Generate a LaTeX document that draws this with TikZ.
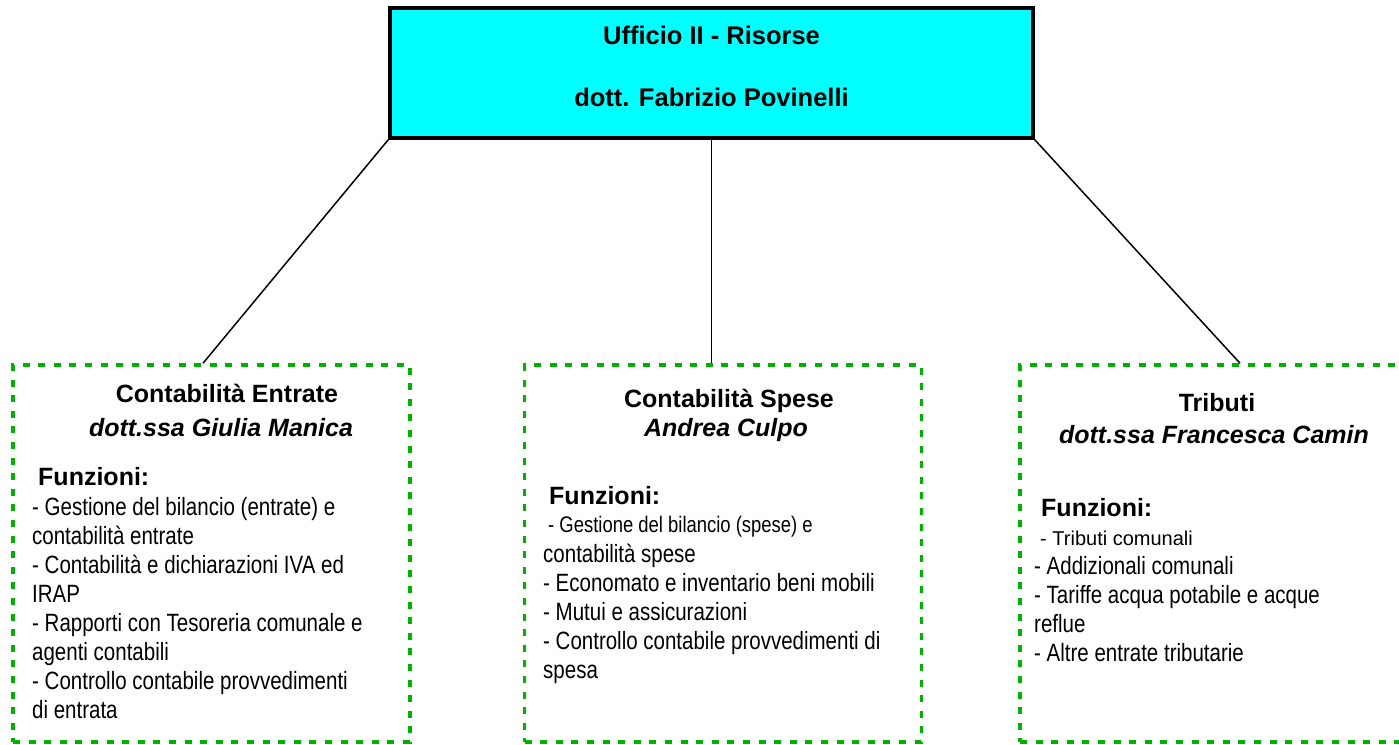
\documentclass[tikz,border=0pt]{standalone}
\usepackage{fontspec}
\setmainfont{Liberation Sans}
\newfontfamily\narrow[FakeStretch=0.82]{Liberation Sans}
\definecolor{uogreen}{RGB}{0,178,0}
\definecolor{uocyan}{RGB}{0,255,255}

\begin{document}
\begin{tikzpicture}[x=1pt,y=-1pt]
            \tikzset{ufficio/.style = {shape=rectangle,draw,line width=3.5pt,fill=uocyan,minimum width=643,minimum height=130,inner sep=0}}
            \tikzset{servizio/.style = {shape=rectangle,draw=uogreen,line width=3.5pt,dash pattern=on 7pt off 8.6pt,minimum width=397,minimum height=377,inner sep=0}}
            \tikzset{capo/.style = {anchor=base,inner sep=0,font=\fontsize{25}{29}\selectfont\bfseries}}
            \tikzset{nome/.style = {capo,font=\fontsize{25}{29}\selectfont\bfseries\itshape}}
            \tikzset{funz/.style = {anchor=base west,inner sep=0,font=\fontsize{25}{29}\selectfont\bfseries}}
            \tikzset{elenco/.style = {anchor=base west,align=left,inner sep=0,font=\narrow\fontsize{25}{29}\selectfont}}
            \tikzset{edge/.style = {line width=1.5pt}}
            \useasboundingbox (0,0) rectangle (1399,744);

            \node[ufficio] (capoufficio) at (711.5,73) {};
            \node[servizio] (entrate) at (211.5,553.5) {};
            \node[servizio] (spese) at (723,553.5) {};
            \node[servizio] (tributi) at (1218.5,553.5) {};

            \node[capo,font=\fontsize{25.5}{29}\selectfont\bfseries] (uff1) at (711.5,44) {Ufficio II - Risorse};
            \node[capo,font=\fontsize{25.5}{29}\selectfont\bfseries] (uff2) at (711.5,106) {dott. Fabrizio Povinelli};

            % Contabilita' Entrate (lists are placed by their last line)
            \node[capo] (ent1) at (227,402) {Contabilità Entrate};
            \node[nome] (ent2) at (221,436) {dott.ssa Giulia Manica};
            \node[funz] (ent3) at (38,485) {Funzioni:};
            \node[elenco] (ent4) at (32,718) {- Gestione del bilancio (entrate) e\\contabilità entrate\\- Contabilità e dichiarazioni IVA ed\\IRAP\\- Rapporti con Tesoreria comunale e\\agenti contabili\\- Controllo contabile provvedimenti\\di entrata};

            % Contabilita' Spese
            \node[capo] (spe1) at (729,407) {Contabilità Spese};
            \node[nome] (spe2) at (726,436) {Andrea Culpo};
            \node[funz] (spe3) at (549,504) {Funzioni:};
            \node[elenco,font=\narrow\fontsize{22.5}{29}\selectfont] (spe4) at (548,532) {- Gestione del bilancio (spese) e};
            \node[elenco] (spe5) at (543,678) {contabilità spese\\- Economato e inventario beni mobili\\- Mutui e assicurazioni\\- Controllo contabile provvedimenti di\\spesa};

            % Tributi
            \node[capo] (tri1) at (1217,411) {Tributi};
            \node[nome] (tri2) at (1214,443) {dott.ssa Francesca Camin};
            \node[funz] (tri3) at (1041,516) {Funzioni:};
            \node[elenco,font=\fontsize{20}{24}\selectfont] (tri4) at (1040,545) {- Tributi comunali};
            \node[elenco] (tri5) at (1034,661) {- Addizionali comunali\\- Tariffe acqua potabile e acque\\reflue\\- Altre entrate tributarie};

            \draw[edge] (capoufficio.south west) to ([xshift=-8.5pt]entrate.north);
            \draw[edge] (capoufficio.south) to (capoufficio.south |- spese.north);
            \draw[edge] (capoufficio.south east) to ([xshift=21.5pt]tributi.north);
        \end{tikzpicture}
\end{document}
